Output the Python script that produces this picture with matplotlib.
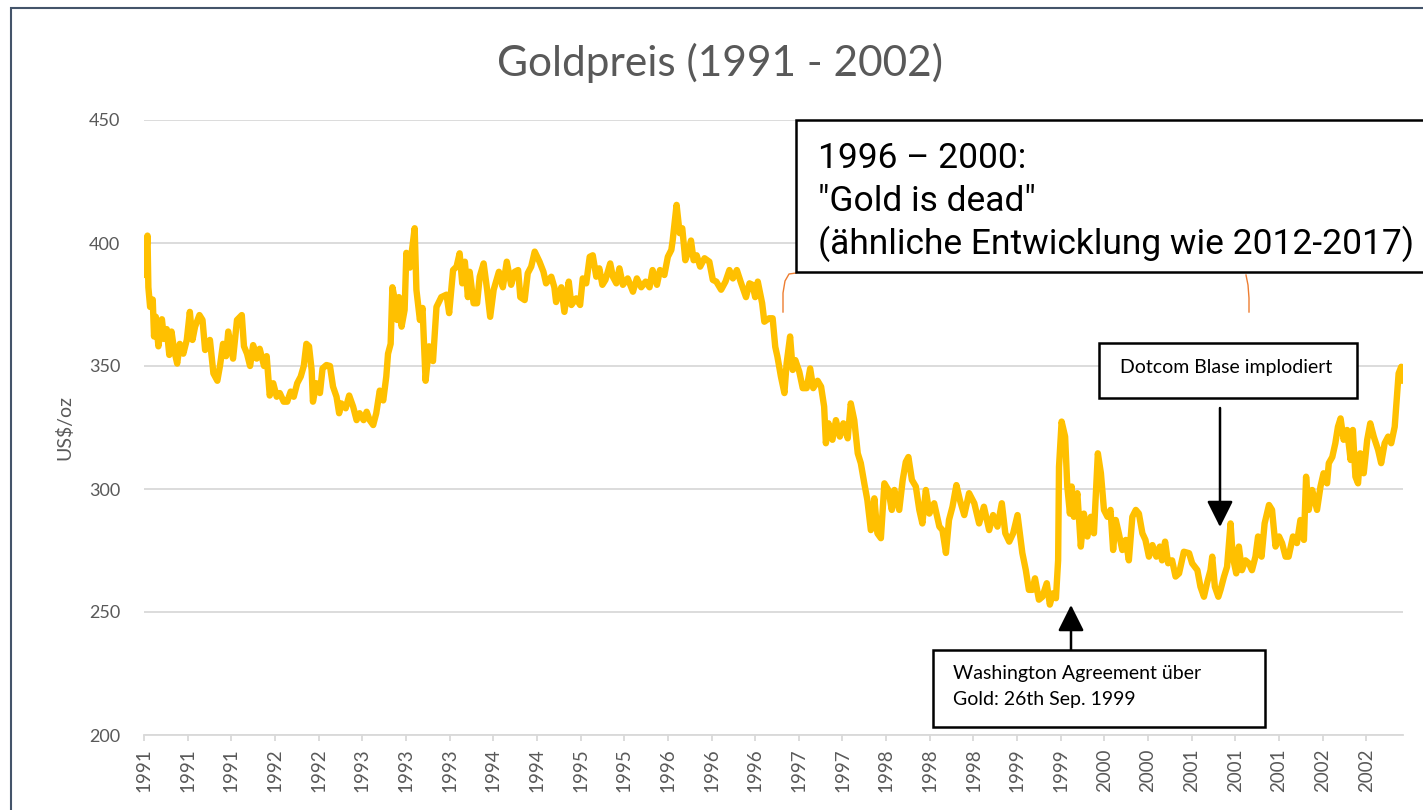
import matplotlib.pyplot as plt
from matplotlib.patches import Rectangle
from matplotlib.lines import Line2D

# trading day index (0 = first trading day 1991) and gold price in US$/oz
trading_day = [2, 8, 10, 14, 20, 23, 27, 33, 41, 46, 52, 58, 63, 69, 76, 82, 90, 98,
               105, 111, 117, 127, 134, 140, 151, 159, 168, 174, 181, 188, 193, 204,
               213, 224, 229, 236, 243, 250, 258, 265, 275, 281, 288, 296, 304, 311,
               320, 328, 336, 343, 351, 359, 366, 372, 378, 384, 387, 395, 403, 409,
               418, 426, 433, 441, 447, 452, 462, 470, 479, 487, 494, 503, 510, 517,
               525, 532, 540, 548, 555, 559, 565, 569, 574, 580, 584, 590, 597, 601,
               609, 620, 624, 632, 638, 645, 653, 662, 670, 681, 693, 699, 708, 716,
               723, 729, 735, 742, 746, 755, 763, 769, 778, 786, 793, 801, 813, 822,
               831, 841, 849, 857, 862, 872, 879, 887, 895, 906, 915, 921, 933, 940,
               944, 956, 963, 973, 979, 990, 999, 1005, 1013, 1021, 1028, 1036, 1043,
               1050, 1057, 1068, 1074, 1082, 1089, 1097, 1108, 1120, 1129, 1139, 1149,
               1158, 1165, 1175, 1182, 1192, 1200, 1208, 1211, 1220, 1227, 1233, 1240,
               1248, 1253, 1259, 1266, 1274, 1284, 1295, 1303, 1311, 1322, 1332, 1341,
               1349, 1358, 1368, 1379, 1387, 1394, 1400, 1406, 1416, 1421, 1432, 1440,
               1446, 1451, 1459, 1467, 1472, 1480, 1486, 1492, 1501, 1509, 1518, 1526,
               1533, 1543, 1551, 1558, 1562, 1568, 1577, 1585, 1594, 1602, 1612, 1619,
               1627, 1635, 1642, 1650, 1657, 1665, 1673, 1680, 1688, 1696, 1705, 1713,
               1719, 1730, 1738, 1745, 1751, 1759, 1768, 1776, 1783, 1791, 1799, 1810,
               1822, 1829, 1837, 1844, 1852, 1861, 1869, 1879, 1890, 1902, 1913, 1924,
               1936, 1945, 1955, 1965, 1973, 1982, 1991, 2001, 2012, 2020, 2027, 2035,
               2041, 2050, 2058, 2068, 2075, 2082, 2089, 2094, 2096, 2102, 2110, 2115,
               2121, 2125, 2130, 2138, 2146, 2153, 2161, 2169, 2176, 2185, 2192, 2199,
               2207, 2214, 2220, 2226, 2233, 2241, 2249, 2256, 2264, 2272, 2279, 2287,
               2294, 2302, 2310, 2319, 2327, 2332, 2339, 2346, 2355, 2363, 2371, 2382,
               2394, 2401, 2413, 2420, 2428, 2435, 2443, 2447, 2453, 2461, 2466, 2474,
               2481, 2489, 2494, 2502, 2508, 2515, 2523, 2531, 2538, 2546, 2552, 2560,
               2567, 2577, 2584, 2592, 2600, 2607, 2615, 2622, 2632, 2641, 2649, 2657,
               2662, 2668, 2676, 2687, 2695, 2702, 2710, 2714, 2722, 2729, 2735, 2741,
               2748, 2756, 2764, 2769, 2775, 2781, 2786, 2794, 2802, 2809, 2817, 2827,
               2834, 2842, 2850, 2857, 2865, 2870, 2874, 2880, 2882]

price = [387, 403, 382, 374, 377, 362, 370, 358, 369, 361, 365, 354.5, 364, 356.5,
         351, 359, 355, 360.6, 372, 360.6, 366, 370.7, 368.7, 356.5, 360.6, 347, 344,
         350, 359, 354, 364, 353, 368.7, 370.7, 358, 355, 350, 358.5, 353, 357, 350,
         354, 338, 343, 337.5, 339, 335.5, 335.5, 339.6, 337.5, 343, 345.7, 350, 359,
         358, 348.4, 335.5, 343, 339, 349, 350.4, 350, 341.6, 337.5, 330.8, 334.8,
         332.8, 338, 333.5, 328, 330.8, 328, 331.4, 328, 326, 330.8, 340, 336, 345.7,
         355, 359, 382, 377.5, 368.7, 378, 366, 372.8, 396, 390, 406, 381, 368.7,
         373.6, 344, 358, 352, 374, 378, 379, 371.5, 389, 390.4, 395.8, 383.6, 392.4,
         378, 388.3, 375.5, 375.5, 386.3, 391.7, 381, 370, 381, 388.3, 382, 392.4,
         383, 388.3, 389, 378, 376.8, 387.7, 390.4, 396.5, 392.4, 388.3, 383.6, 386.3,
         382, 376, 382, 372, 384.3, 374.8, 377.5, 374.8, 385.6, 383.6, 394.4, 395,
         386.3, 389.7, 383, 385, 391.7, 386.3, 383.6, 389.7, 383, 385.6, 380.2, 385.6,
         382, 384.3, 382, 389, 383, 389, 387, 394.4, 397.2, 401, 415.5, 404, 406, 393,
         397, 401, 393, 395, 390.4, 393.8, 392.4, 385, 384.3, 381, 384.3, 389, 385.6,
         389, 383.6, 378, 383.6, 383, 378, 384.3, 375.5, 368, 369.4, 369.4, 357.8,
         353.8, 345.7, 339, 351, 362, 348.4, 352.4, 347.7, 341, 341, 349, 341, 344,
         341.6, 333.5, 318.6, 326.7, 320, 328, 321.3, 326.7, 320.6, 334.8, 328, 314.5,
         310.5, 302.3, 295.5, 283.3, 296.2, 282, 280, 302.3, 299.6, 291.5, 299.6,
         291.5, 303.7, 311, 313, 303.7, 301, 291.5, 286, 299.6, 290, 294.2, 284.7,
         283.3, 274, 287.4, 292.8, 301.6, 295.5, 289.4, 298.3, 294.2, 286, 292.8,
         283.3, 289.4, 284.7, 294.2, 282, 278.6, 282, 289.4, 274, 267, 259, 259, 263.7,
         255, 256.2, 261.7, 253, 257.6, 255.6, 271, 309, 327.4, 321.3, 301, 290, 301,
         288.7, 298.3, 276.6, 290, 280.7, 288.7, 282, 314.5, 306.4, 291.5, 288.7,
         291.5, 275.2, 287.4, 282, 275.2, 279.3, 271, 288.7, 291.5, 290, 282, 279.3,
         272.5, 277.2, 272.5, 276.6, 271, 278.6, 269.8, 271, 264.4, 265.7, 274.5,
         273.9, 269.8, 267, 260.3, 256.2, 261.7, 267, 272.5, 260.3, 256.2, 259, 264.4,
         268.4, 286, 272.5, 265.7, 276.6, 267, 271, 269.8, 267, 272.5, 280.7, 272.5,
         286, 293.5, 291.5, 276.6, 280.7, 278, 272.5, 272.5, 280.7, 278, 287.4, 279.3,
         305, 291.5, 299.6, 291.5, 301, 306.4, 302.3, 310.5, 313, 318.6, 325.3, 328.7,
         320, 324, 311.8, 324, 305, 302.3, 314.5, 306.4, 320, 326.7, 321.3, 315.9,
         310.5, 318.6, 321.3, 318.6, 325.3, 337.5, 347, 349.7, 344]

# one category label every 100 trading days
tick_years = ['1991', '1991', '1991', '1992', '1992', '1993', '1993', '1993', '1994',
              '1994', '1995', '1995', '1996', '1996', '1996', '1997', '1997', '1998',
              '1998', '1998', '1999', '1999', '2000', '2000', '2001', '2001', '2001',
              '2002', '2002']
y_ticks = [200, 250, 300, 350, 400, 450]

W, H = 1423, 810
GRAY = '#595959'
plt.rcParams['font.family'] = ['Lato', 'DejaVu Sans']


def fx(x):
    return x / W


def fy(y):
    return 1 - y / H


fig = plt.figure(figsize=(W / 100, H / 100), dpi=100)
ax = fig.add_axes([fx(144), fy(735), (1403 - 144) / W, (735 - 120) / H])

ax.plot(trading_day, price, color='#FFC000', lw=4.6,
        solid_joinstyle='round', solid_capstyle='round', zorder=3)

ax.set_xlim(0, 2884)
ax.set_ylim(200, 450)
ax.set_yticks(y_ticks)
ax.set_xticks(range(0, 100 * len(tick_years), 100))
ax.set_xticklabels(tick_years, rotation=90)
ax.grid(axis='y', color='#D9D9D9', lw=1.3)
ax.set_axisbelow(True)
for s in ['top', 'right', 'left']:
    ax.spines[s].set_visible(False)
ax.spines['bottom'].set_color('#D9D9D9')
ax.spines['bottom'].set_linewidth(1.3)
ax.tick_params(axis='y', length=0, pad=17, labelcolor=GRAY, labelsize=13)
ax.tick_params(axis='x', length=4.5, width=1.3, color='#D9D9D9', pad=5,
               labelcolor=GRAY, labelsize=13.5)
ax.set_ylabel('US$/oz', fontsize=14, color=GRAY)
ax.yaxis.set_label_coords(-0.056, 0.5)

fig.text(fx(720), fy(63), 'Goldpreis (1991 - 2002)', ha='center', va='center',
         fontsize=30.5, color=GRAY)

# outer chart border (cut off at right and bottom)
fig.patches.append(Rectangle((fx(11), fy(900)), fx(1600), (900 - 8) / H,
                             transform=fig.transFigure, fill=False,
                             edgecolor='#44546A', lw=1.5))

# big comment box
fig.patches.append(Rectangle((fx(796), fy(272)), fx(700), (272 - 120) / H,
                             transform=fig.transFigure, facecolor='white',
                             edgecolor='black', lw=1.8, zorder=5))
for txt, yb in [('1996 \u2013 2000:', 168), ('"Gold is dead"', 211),
                ('(ähnliche Entwicklung wie 2012-2017)', 254)]:
    fig.text(fx(818), fy(yb), txt, ha='left', va='baseline', fontsize=25.5,
             family=['Roboto', 'DejaVu Sans'], color='black', zorder=6)

# orange bracket under the box
fig.lines.append(Line2D([fx(796), fx(789), fx(785), fx(783), fx(783)],
                        [fy(273), fy(274), fy(281), fy(293), fy(312)],
                        transform=fig.transFigure, color='#ED7D31', lw=1))
fig.lines.append(Line2D([fx(1246), fx(1248), fx(1249), fx(1249)],
                        [fy(275), fy(285), fy(298), fy(312)],
                        transform=fig.transFigure, color='#ED7D31', lw=1))

# Dotcom box + arrow
fig.patches.append(Rectangle((fx(1099), fy(398)), (1357 - 1099) / W, (398 - 343) / H,
                             transform=fig.transFigure, facecolor='white',
                             edgecolor='black', lw=1.8, zorder=5))
fig.text(fx(1226), fy(367), 'Dotcom Blase implodiert', ha='center', va='center',
         fontsize=14, color='black', zorder=6)
ax.annotate('', xy=(1220, H - 527), xycoords='figure pixels',
            xytext=(1220, H - 408), textcoords='figure pixels',
            arrowprops=dict(arrowstyle='-|>,head_length=0.8,head_width=0.4',
                            color='black', lw=1.8, mutation_scale=20,
                            shrinkA=0, shrinkB=0), zorder=6)

# Washington box + arrow
fig.patches.append(Rectangle((fx(933), fy(727)), (1265 - 933) / W, (727 - 650) / H,
                             transform=fig.transFigure, facecolor='white',
                             edgecolor='black', lw=1.8, zorder=5))
fig.text(fx(953), fy(673), 'Washington Agreement über', ha='left', va='center',
         fontsize=14, color='black', zorder=6)
fig.text(fx(953), fy(699), 'Gold: 26th Sep. 1999', ha='left', va='center',
         fontsize=14, color='black', zorder=6)
ax.annotate('', xy=(1071, H - 605), xycoords='figure pixels',
            xytext=(1071, H - 650), textcoords='figure pixels',
            arrowprops=dict(arrowstyle='-|>,head_length=0.8,head_width=0.4',
                            color='black', lw=1.8, mutation_scale=20,
                            shrinkA=0, shrinkB=0), zorder=6)

fig.savefig('out.png', dpi=100)
